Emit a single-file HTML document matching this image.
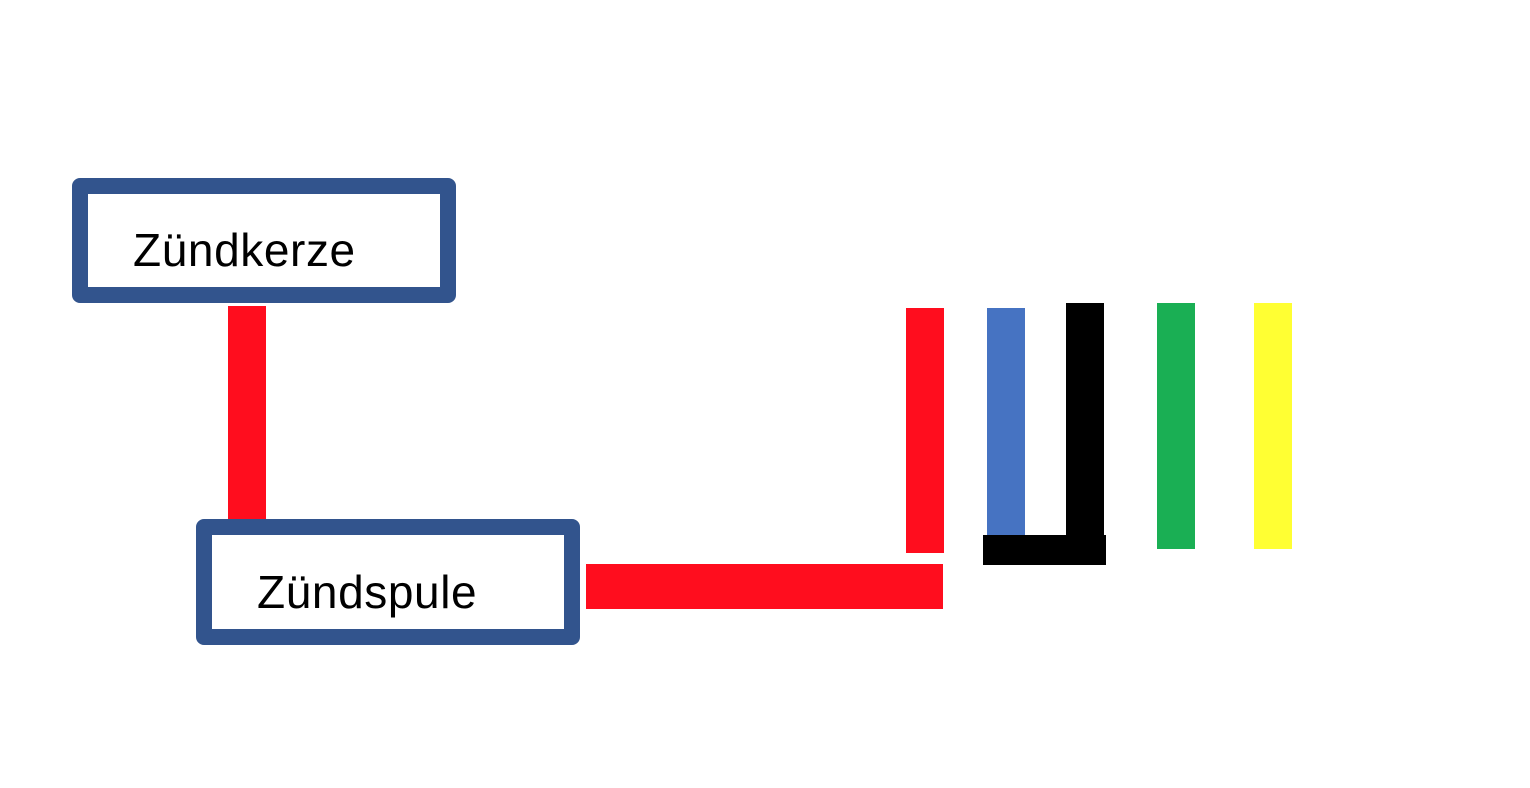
<!DOCTYPE html>
<html><head><meta charset="utf-8"><style>
html,body{margin:0;padding:0;background:#fff;}
body{width:1530px;height:788px;position:relative;overflow:hidden;font-family:"Liberation Sans",sans-serif;}
.b{position:absolute;}
.box{position:absolute;border:16px solid #32548d;border-radius:8px;box-sizing:border-box;background:#fff;}
.t{position:absolute;font-size:46px;letter-spacing:0.6px;color:#000;line-height:1;white-space:nowrap;}
</style></head><body>
<div class="box" style="left:72px;top:178px;width:384px;height:125px;"></div>
<div class="t" style="left:133px;top:227px;">Zündkerze</div>
<div class="b" style="left:228px;top:306px;width:38px;height:214px;background:#ff0d1e;"></div>
<div class="box" style="left:196px;top:519px;width:384px;height:126px;"></div>
<div class="t" style="left:257px;top:569px;">Zündspule</div>
<div class="b" style="left:586px;top:564px;width:357px;height:45px;background:#ff0d1e;"></div>
<div class="b" style="left:906px;top:308px;width:38px;height:245px;background:#ff0d1e;"></div>
<div class="b" style="left:987px;top:308px;width:38px;height:227px;background:#4673c2;"></div>
<div class="b" style="left:1066px;top:303px;width:38px;height:232px;background:#000;"></div>
<div class="b" style="left:983px;top:535px;width:123px;height:30px;background:#000;"></div>
<div class="b" style="left:1157px;top:303px;width:38px;height:246px;background:#1aaf54;"></div>
<div class="b" style="left:1254px;top:303px;width:38px;height:246px;background:#ffff33;"></div>
</body></html>
